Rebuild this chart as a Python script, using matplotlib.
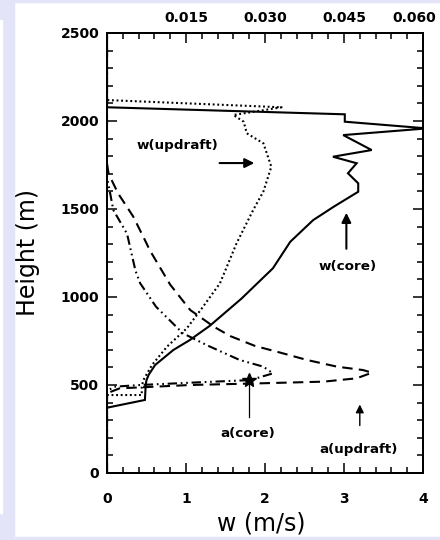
import matplotlib
matplotlib.use("Agg")
import matplotlib.pyplot as plt
from matplotlib.patches import Rectangle
from matplotlib.ticker import MultipleLocator, FixedLocator
from matplotlib.transforms import ScaledTranslation

# ---------------- data ----------------
# w(core) : vertical velocity in the core (m/s) vs height (m)
wcore_h = [0, 371, 415, 500, 528, 560, 614, 699, 756, 836, 990, 1163, 1314, 1437,
           1513, 1598, 1646, 1703, 1760, 1797, 1835, 1920, 1958, 1996, 2038, 2078, 2500]
wcore_w = [0, 0, 0.48, 0.49, 0.50, 0.53, 0.61, 0.84, 1.05, 1.30, 1.70, 2.10, 2.32, 2.61,
           2.87, 3.18, 3.18, 3.05, 3.16, 2.86, 3.35, 2.99, 4.05, 3.01, 3.01, 0, 0]

# w(updraft)
wupd_h = [0, 443, 443, 490, 528, 614, 718, 822, 935, 1078, 1305, 1494, 1600, 1740,
          1873, 1930, 1996, 2034, 2078, 2119, 2500]
wupd_w = [0, 0, 0.44, 0.44, 0.46, 0.57, 0.76, 1.01, 1.20, 1.43, 1.64, 1.85, 1.98, 2.08,
          1.98, 1.77, 1.73, 1.60, 2.21, 0, 0]

# a(updraft) : fractional area (top axis)
aupd_h = [0, 453, 481, 500, 509, 519, 538, 570, 585, 604, 642, 684, 722, 778, 831,
          926, 1070, 1267, 1305, 1456, 1589, 1700, 1760, 2500]
aupd_a = [0, 0, 0.0024, 0.0158, 0.0284, 0.0411, 0.0474, 0.0503, 0.0486, 0.0437, 0.0380,
          0.0329, 0.0281, 0.0234, 0.0203, 0.0158, 0.0120, 0.0081, 0.0075, 0.0050,
          0.0021, 0.0003, 0, 0]

# a(core)
acore_h = [0, 462, 490, 500, 513, 528, 566, 604, 642, 727, 794, 945, 1078, 1150, 1360,
           1494, 1589, 1680, 2500]
acore_a = [0, 0, 0.0012, 0.0063, 0.0158, 0.0272, 0.0315, 0.0297, 0.0252, 0.0189,
           0.0144, 0.0093, 0.0063, 0.0054, 0.0038, 0.0012, 0.0006, 0, 0]

y_ticks = [0, 500, 1000, 1500, 2000, 2500]
x_ticks = [0, 1, 2, 3, 4]
top_ticks = [0.015, 0.030, 0.045, 0.060]
top_labels = ["0.015", "0.030", "0.045", "0.060"]

# ---------------- figure ----------------
W, H = 440, 540
fig = plt.figure(figsize=(W / 100, H / 100), dpi=100)
fig.patch.set_facecolor("white")
lav = "#e4e4f8"
fig.patches.append(Rectangle((0, 0), 14 / W, 1, transform=fig.transFigure, color=lav, zorder=0))
fig.patches.append(Rectangle((0, 27 / H), 2 / W, (513 - 20) / H, transform=fig.transFigure,
                             color="white", zorder=0.5))
fig.patches.append(Rectangle((0, 1 - 2 / H), 1, 2 / H, transform=fig.transFigure, color=lav, zorder=0))
fig.patches.append(Rectangle((0, 0), 1, 3 / H, transform=fig.transFigure, color=lav, zorder=0))

L, R, T, B = 107, 423, 33, 473
ax = fig.add_axes([L / W, 1 - B / H, (R - L) / W, (B - T) / H])
ax.set_xlim(0, 4)
ax.set_ylim(0, 2500)
ax2 = ax.twiny()
ax2.set_xlim(0, 0.06)

lw = 1.5
ax.plot(wcore_w, wcore_h, color="black", lw=lw, solid_joinstyle="miter")
ax.plot(wupd_w, wupd_h, color="black", lw=lw, linestyle=(0, (0.9, 1.3)))
ax2.plot(aupd_a, aupd_h, color="black", lw=lw, linestyle=(0, (5, 3)))
ax2.plot(acore_a, acore_h, color="black", lw=lw, linestyle=(0, (4.5, 1.8, 0.8, 1.8, 0.8, 1.8)))

# ticks
ax.xaxis.set_major_locator(FixedLocator(x_ticks))
ax.xaxis.set_minor_locator(MultipleLocator(0.2))
ax.yaxis.set_major_locator(FixedLocator(y_ticks))
ax.yaxis.set_minor_locator(MultipleLocator(100))
ax.tick_params(which="both", direction="in", right=True, top=False, width=1.1)
ax.tick_params(which="major", length=7)
ax.tick_params(which="minor", length=4)
ax.tick_params(axis="x", pad=13.5)
ax.tick_params(axis="y", pad=5.5)
ax2.xaxis.set_major_locator(FixedLocator(top_ticks))
ax2.set_xticklabels(top_labels)
ax2.xaxis.set_minor_locator(MultipleLocator(0.003))
ax2.tick_params(which="both", direction="in", width=1.1, pad=5.5)
ax2.tick_params(which="major", length=7)
ax2.tick_params(which="minor", length=4)
for a in (ax, ax2):
    for lab in a.get_xticklabels() + a.get_yticklabels():
        lab.set_fontweight("bold")
        lab.set_fontsize(10)
    for s in a.spines.values():
        s.set_linewidth(1.4)

ax.set_ylabel("Height (m)", fontsize=17, va="center")
ax.yaxis.set_label_coords((28 - L) / (R - L), 0.5)
ax.set_xlabel("w (m/s)", fontsize=17, va="center")
ax.xaxis.set_label_coords((261 - L) / (R - L), -(523 - B) / (B - T))

# annotations
tkw = dict(fontsize=9.7, fontweight="bold", ha="center", va="center")
ax.text(0.89, 1858, "w(updraft)", **tkw)
ax.annotate("", xy=(1.90, 1761), xytext=(1.39, 1761),
            arrowprops=dict(arrowstyle="-|>", lw=1.5, color="black", mutation_scale=14))
ax.text(3.05, 1172, "w(core)", **tkw)
ax.annotate("", xy=(3.03, 1494), xytext=(3.03, 1258),
            arrowprops=dict(arrowstyle="-|>", lw=1.5, color="black", mutation_scale=14))
ax.text(1.78, 222, "a(core)", **tkw)
ax.plot([1.80, 1.80], [320, 520], color="black", lw=0.9)
ax.plot([1.80], [530], marker="*", color="black", markersize=10)
ax.text(3.19, 134, "a(updraft)", **tkw)
ax.annotate("", xy=(3.20, 405), xytext=(3.20, 254),
            arrowprops=dict(arrowstyle="-|>", lw=1.0, color="black", mutation_scale=12))

# keep the last top label inside the picture
fig.canvas.draw()
last = ax2.get_xticklabels()[-1]
last.set_transform(last.get_transform() + ScaledTranslation(-9 / 100, 0, fig.dpi_scale_trans))

fig.savefig("out.png", dpi=100)
